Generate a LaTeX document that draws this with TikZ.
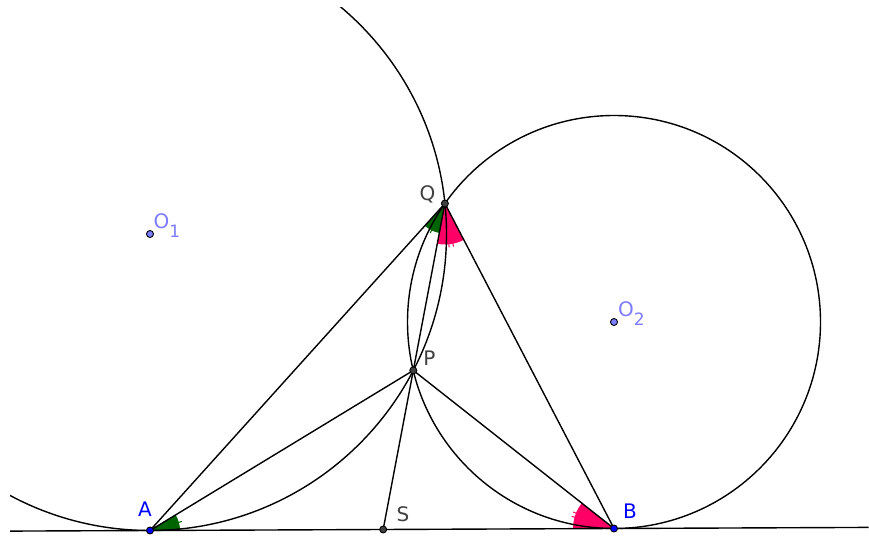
\documentclass[tikz,border=0pt]{standalone}
\usepackage{fontspec}
\setmainfont{DejaVu Sans}
\usetikzlibrary{angles,calc}
\definecolor{ggreen}{RGB}{0,100,0}
\definecolor{gpink}{RGB}{255,0,102}
\definecolor{gblue}{RGB}{0,0,255}
\definecolor{ggray}{RGB}{64,64,64}
\definecolor{glight}{RGB}{125,125,255}
\tikzset{
  curve/.style={line width=1.4pt, black},
  seg/.style={line width=1.4pt, black},
  dotpt/.style={circle, draw=black, line width=0.9pt, inner sep=0pt, minimum size=7pt},
  lbl/.style={font=\fontsize{20}{24}\selectfont, inner sep=0pt},
  tick/.style={line width=1pt}
}
\begin{document}
\begin{tikzpicture}[x=1pt,y=1pt]
\useasboundingbox (0,0) rectangle (869,535);
\fill[white] (0,0) rectangle (869,535);
% geometry
\coordinate (O1) at (150,301);
\coordinate (O2) at (614,213);
\coordinate (A) at (150,4.5);
\coordinate (B) at (614,6.5);
\coordinate (Q) at (444.9,331.5);
\coordinate (P) at (413.3,164.6);
\coordinate (S) at (intersection of Q--P and A--B);
\coordinate (L) at ($(A)!-0.3017!(B)$);
\coordinate (R) at ($(A)!1.5485!(B)$);
% angle fills
\pic[fill=ggreen, draw=none, angle radius=30pt] {angle=B--A--P};
\pic[fill=ggreen, draw=none, angle radius=30pt] {angle=A--Q--P};
\pic[fill=gpink, draw=none, angle radius=41pt] {angle=P--Q--B};
\pic[fill=gpink, draw=none, angle radius=41pt] {angle=P--B--A};
% ticks
\draw[tick, ggreen] (A) ++(15.8:28) -- ++(15.8:5);
\draw[tick, ggreen] (Q) ++(243.6:28) -- ++(243.6:5);
\draw[tick, gpink] (Q) ++(275.5:39) -- ++(275.5:5);
\draw[tick, gpink] (Q) ++(281.3:39) -- ++(281.3:5);
\draw[tick, gpink] (B) ++(158:39) -- ++(158:5);
\draw[tick, gpink] (B) ++(164:39) -- ++(164:5);
% circles
\begin{scope}
\clip (10,0) rectangle (869,527);
\draw[curve] (O1) circle[radius=296.5];
\draw[curve] (O2) circle[radius=206.5];
\end{scope}
% segments
\draw[seg] (L) -- (R);
\draw[seg] (A) -- (Q);
\draw[seg] (A) -- (P);
\draw[seg] (Q) -- (S);
\draw[seg] (P) -- (B);
\draw[seg] (Q) -- (B);
% points
\node[dotpt, fill=glight] (o1) at (O1) {};
\node[dotpt, fill=glight] (o2) at (O2) {};
\node[dotpt, fill=gblue] (a) at (A) {};
\node[dotpt, fill=gblue] (b) at (B) {};
\node[dotpt, fill=ggray] (q) at (Q) {};
\node[dotpt, fill=ggray] (p) at (P) {};
\node[dotpt, fill=ggray] (s) at (S) {};
% labels
\node[lbl, text=gblue] (la) at (145,26) {A};
\node[lbl, text=gblue] (lb) at (630,24) {B};
\node[lbl, text=ggray] (lq) at (427.5,341) {Q};
\node[lbl, text=ggray] (lp) at (429.5,177) {P};
\node[lbl, text=ggray] (ls) at (403,21) {S};
\node[lbl, text=glight, anchor=base west] (lo1) at (153.5,306) {O\raisebox{-9pt}{\fontsize{17}{20}\selectfont 1}};
\node[lbl, text=glight, anchor=base west] (lo2) at (618,218) {O\raisebox{-9pt}{\fontsize{17}{20}\selectfont 2}};
\end{tikzpicture}
\end{document}
